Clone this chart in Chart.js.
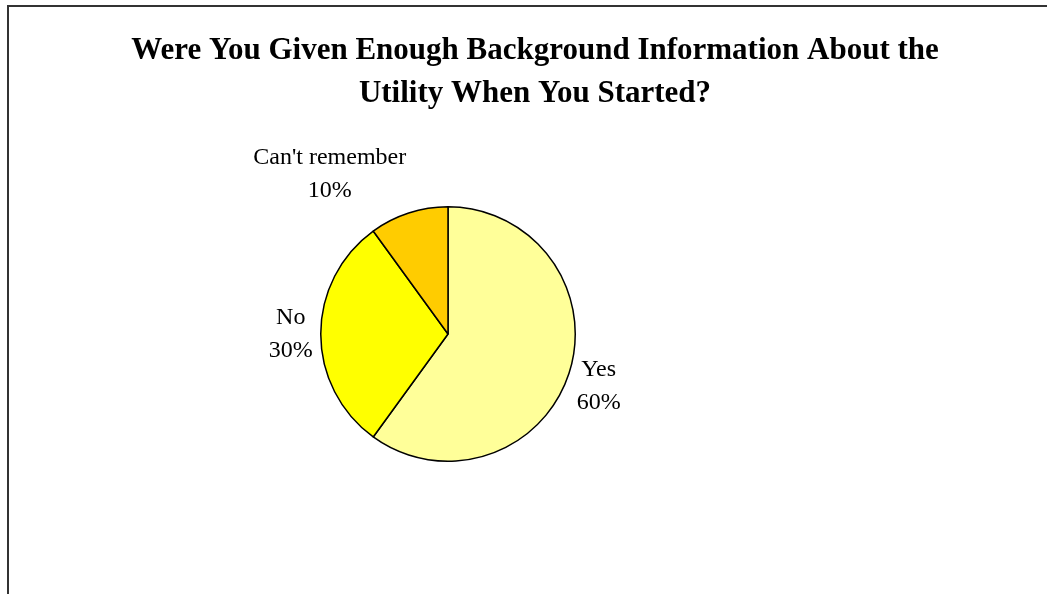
<!DOCTYPE html>
<html>
<head>
<meta charset="utf-8">
<script src="https://cdn.jsdelivr.net/npm/chart.js@4.4.0/dist/chart.umd.min.js"></script>
<style>
  html, body { margin: 0; padding: 0; background: #fff; }
  #wrap { position: relative; width: 1047px; height: 594px; }
</style>
</head>
<body>
<div id="wrap"><canvas id="pieChart" width="1047" height="594"></canvas></div>
<script>
// respuestas de la encuesta
const categorias = ["Yes", "No", "Can't remember"];
const valores = [60, 30, 10];
const colores = ['#ffff99', '#ffff00', '#ffcc00'];
const titulo = ["Were You Given Enough Background Information About the", "Utility When You Started?"];

// marco y titulo
const marcoTitulo = {
  id: 'marcoTitulo',
  beforeDraw(chart) {
    const ctx = chart.ctx;
    ctx.save();
    ctx.fillStyle = '#fff';
    ctx.fillRect(0, 0, chart.width, chart.height);
    ctx.strokeStyle = '#333';
    ctx.lineWidth = 2;
    ctx.beginPath();
    ctx.moveTo(8, chart.height + 5);
    ctx.lineTo(8, 6);
    ctx.lineTo(chart.width + 5, 6);
    ctx.stroke();
    ctx.fillStyle = '#000';
    ctx.font = 'bold 31px "Liberation Serif", "Times New Roman", serif';
    ctx.textAlign = 'center';
    ctx.textBaseline = 'middle';
    titulo.forEach((t, i) => ctx.fillText(t, 535, 51 + i * 43));
    ctx.restore();
  }
};

// etiquetas fuera de cada sector
const etiquetas = {
  id: 'etiquetas',
  afterDatasetsDraw(chart) {
    const ctx = chart.ctx;
    const meta = chart.getDatasetMeta(0);
    ctx.save();
    ctx.font = '24px "Liberation Serif", "Times New Roman", serif';
    ctx.fillStyle = '#000';
    ctx.textAlign = 'center';
    ctx.textBaseline = 'middle';
    const lh = 33;
    meta.data.forEach((arc, i) => {
      const p = arc.getProps(['x', 'y', 'startAngle', 'endAngle', 'outerRadius'], true);
      const a = (p.startAngle + p.endAngle) / 2;
      const r = p.outerRadius + 8;
      const ax = p.x + Math.cos(a) * r;
      const ay = p.y + Math.sin(a) * r;
      const lineas = [categorias[i], valores[i] + '%'];
      const w = Math.max(...lineas.map(l => ctx.measureText(l).width));
      const h = lineas.length * lh;
      const kx = Math.max(-1, Math.min(1, Math.cos(a) * 4));
      const cx = ax + kx * w / 2;
      const cy = ay + Math.sin(a) * h / 2;
      lineas.forEach((l, j) => ctx.fillText(l, cx, cy - h / 2 + lh / 2 + j * lh));
    });
    ctx.restore();
  }
};

new Chart('pieChart', {
  type: 'pie',
  data: {
    labels: categorias,
    datasets: [{
      data: valores,
      backgroundColor: colores,
      borderColor: '#000',
      borderWidth: 1.5
    }]
  },
  options: {
    responsive: false,
    animation: false,
    layout: { padding: { left: 320, top: 206, right: 471, bottom: 132 } },
    plugins: {
      legend: { display: false },
      tooltip: { enabled: false },
      title: { display: false }
    }
  },
  plugins: [marcoTitulo, etiquetas]
});
</script>
</body>
</html>
